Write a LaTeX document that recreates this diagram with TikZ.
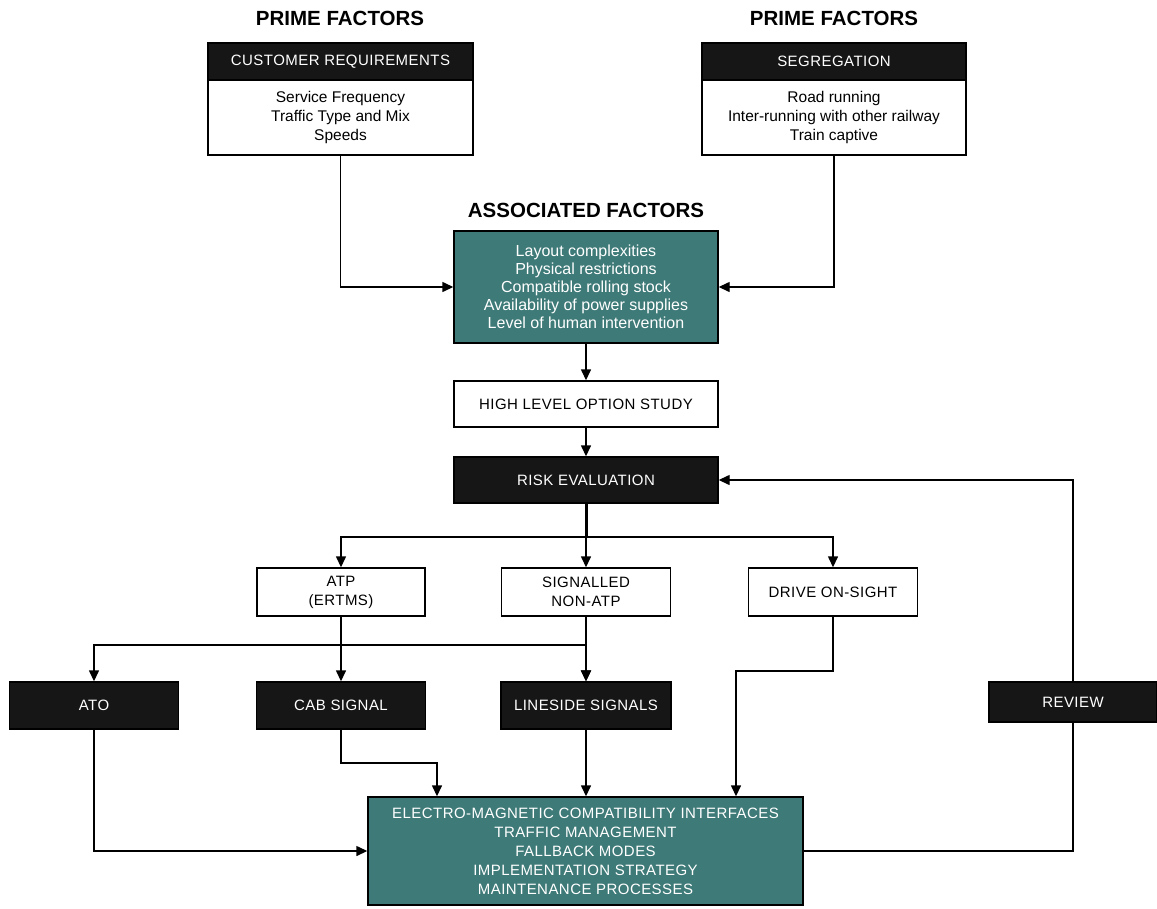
\documentclass[tikz,border=0pt]{standalone}
\usepackage{fontspec}
\setmainfont{Liberation Sans}
\newfontfamily\capsfam[LetterSpace=3]{Liberation Sans}
\usetikzlibrary{arrows.meta}
\definecolor{tealbox}{RGB}{62,122,120}
\definecolor{boxblack}{RGB}{22,22,22}
\newcommand\titlef{\fontsize{20.5}{24}\selectfont\bfseries}
\newcommand\bodyf{\fontsize{15.5}{19}\selectfont}
\newcommand\assocf{\fontsize{16}{18}\selectfont}
\newcommand\capf{\capsfam\fontsize{15}{19}\selectfont}
\tikzset{
  frame/.style={draw=black, line width=1.4pt, rectangle, inner sep=0pt, align=center},
  whitebox/.style={frame, fill=white, font=\capf},
  bodybox/.style={frame, fill=white, font=\bodyf},
  blackbox/.style={frame, fill=boxblack, text=white, font=\capf},
  tealnode/.style={frame, fill=tealbox, text=white},
  heading/.style={font=\titlef, inner sep=0pt},
  conn/.style={line width=1.4pt},
  arr/.style={conn, -{Triangle[length=11pt,width=10pt]}},
  thickconn/.style={line width=3pt}
}
\begin{document}
\begin{tikzpicture}[x=1pt,y=-1pt]
\useasboundingbox (0,0) rectangle (1157,908);
% titles
\node[heading] (pf1) at (340,18) {PRIME FACTORS};
\node[heading] (pf2) at (834,18) {PRIME FACTORS};
\node[heading] (aft) at (586,210) {ASSOCIATED FACTORS};
% prime factor boxes
\node[blackbox, minimum width=265pt, minimum height=37pt] (custH) at (340.5,61.5) {CUSTOMER REQUIREMENTS};
\node[bodybox, minimum width=265pt, minimum height=75pt] (custB) at (340.5,117.5) {Service Frequency\\Traffic Type and Mix\\Speeds};
\node[blackbox, minimum width=264pt, minimum height=37pt] (segH) at (834,61.5) {SEGREGATION};
\node[bodybox, minimum width=264pt, minimum height=75pt] (segB) at (834,117.5) {Road running\\Inter-running with other railway\\Train captive};
% associated factors
\node[tealnode, font=\assocf, minimum width=264pt, minimum height=112pt] (assoc) at (586,287) {Layout complexities\\Physical restrictions\\Compatible rolling stock\\Availability of power supplies\\Level of human intervention};
\node[whitebox, minimum width=264pt, minimum height=46pt] (hlos) at (586,404) {HIGH LEVEL OPTION STUDY};
\node[blackbox, minimum width=264pt, minimum height=46pt] (risk) at (586,480) {RISK EVALUATION};
% options
\node[whitebox, minimum width=168pt, minimum height=48pt] (atp) at (341,592) {ATP\\(ERTMS)};
\node[whitebox, minimum width=169pt, minimum height=48pt] (sig) at (586,592) {SIGNALLED\\NON-ATP};
\node[whitebox, minimum width=169pt, minimum height=48pt] (drive) at (833,592) {DRIVE ON-SIGHT};
% systems
\node[blackbox, minimum width=169pt, minimum height=47pt] (ato) at (94,705.5) {ATO};
\node[blackbox, minimum width=169pt, minimum height=47pt] (cab) at (341,705.5) {CAB SIGNAL};
\node[blackbox, minimum width=170pt, minimum height=47pt] (line) at (586,705.5) {LINESIDE SIGNALS};
\node[blackbox, minimum width=168pt, minimum height=40pt] (review) at (1073,702) {REVIEW};
% bottom box
\node[tealnode, font=\capf, minimum width=435pt, minimum height=108pt] (bottom) at (585.5,851) {ELECTRO-MAGNETIC COMPATIBILITY INTERFACES\\TRAFFIC MANAGEMENT\\FALLBACK MODES\\IMPLEMENTATION STRATEGY\\MAINTENANCE PROCESSES};
% helper coordinates
\coordinate (br) at (586,537);
\coordinate (br2) at (341,645);
\coordinate (cabK) at (437,763);
\coordinate (drK) at (736,671);
% connectors
\draw[arr] (custB.south) |- (assoc.west);
\draw[arr] (segB.south) |- (assoc.east);
\draw[arr] (assoc.south) -- (hlos.north);
\draw[arr] (hlos.south) -- (risk.north);
\draw[thickconn] (risk.south) -- (br);
\draw[arr] (br) -| (atp.north);
\draw[arr] (br) -- (sig.north);
\draw[arr] (br) -| (drive.north);
\draw[conn] (atp.south) -- (br2);
\draw[arr] (br2) -| (ato.north);
\draw[arr] (br2) -- (cab.north);
\draw[arr] (br2) -| (line.north);
\draw[arr, line width=2pt] (sig.south) -- (line.north);
\draw[arr] (ato.south) |- (bottom.west);
\draw[arr] (cab.south) |- (cabK) -- (cabK |- bottom.north);
\draw[arr] (line.south) -- (bottom.north -| line.south);
\draw[arr] (drive.south) |- (drK) -- (drK |- bottom.north);
\draw[conn] (bottom.east) -| (review.south);
\draw[arr] (review.north) |- (risk.east);
\end{tikzpicture}
\end{document}
